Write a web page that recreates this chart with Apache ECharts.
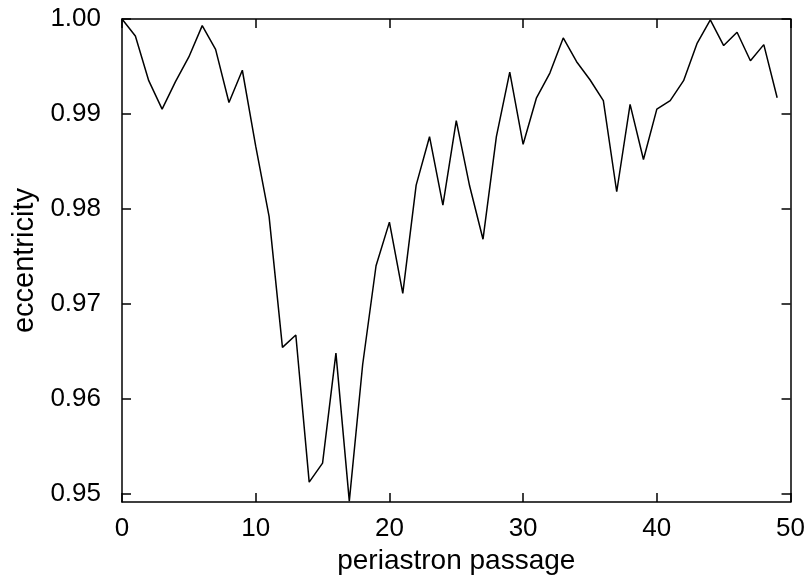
<!DOCTYPE html>
<html>
<head>
<meta charset="utf-8">
<script src="https://cdn.jsdelivr.net/npm/echarts@6/dist/echarts.min.js"></script>
<style>
html, body { margin: 0; padding: 0; background: #fff; }
#chart { width: 808px; height: 580px; }
</style>
</head>
<body>
<div id="chart"></div>
<script>
// periastron passage number
var passage = [0, 1, 2, 3, 4, 5, 6, 7, 8, 9,
	10, 11, 12, 13, 14, 15, 16, 17, 18, 19,
	20, 21, 22, 23, 24, 25, 26, 27, 28, 29,
	30, 31, 32, 33, 34, 35, 36, 37, 38, 39,
	40, 41, 42, 43, 44, 45, 46, 47, 48, 49];
// eccentricity
var eccentricity = [1.0000, 0.9982, 0.9935, 0.9905, 0.9934, 0.9960, 0.9993, 0.9968, 0.9912, 0.9946,
	0.9866, 0.9792, 0.9654, 0.9667, 0.9512, 0.9532, 0.9648, 0.9492, 0.9636, 0.9740,
	0.9786, 0.9711, 0.9825, 0.9876, 0.9804, 0.9893, 0.9824, 0.9768, 0.9876, 0.9944,
	0.9868, 0.9917, 0.9943, 0.9980, 0.9955, 0.9936, 0.9914, 0.9818, 0.9910, 0.9852,
	0.9905, 0.9914, 0.9935, 0.9974, 0.9999, 0.9972, 0.9986, 0.9956, 0.9973, 0.9917];
var yTicks = [0.95, 0.96, 0.97, 0.98, 0.99, 1.00];

var fontName = 'Liberation Sans';

function buildData() {
	var list = [];
	for (var i = 0; i < passage.length; i++) {
		list.push([passage[i], eccentricity[i]]);
	}
	return list;
}

function xAxisOpt(pos, showLabel) {
	return {
		type : 'value',
		position : pos,
		min : 0,
		max : 50,
		interval : 10,
		name : showLabel ? 'periastron passage' : '',
		nameLocation : 'middle',
		nameGap : 42,
		nameTextStyle : { fontFamily : fontName, fontSize : 28, color : '#000' },
		axisLine : { show : true, onZero : false, lineStyle : { color : '#000', width : 1.5 } },
		axisTick : { show : true, inside : true, length : 9, lineStyle : { color : '#000', width : 1.5 } },
		axisLabel : {
			show : showLabel,
			margin : 14,
			fontFamily : fontName,
			fontSize : 26,
			color : '#000'
		},
		splitLine : { show : false }
	};
}

function yAxisOpt(pos, showLabel) {
	return {
		type : 'value',
		position : pos,
		min : 0.9491,
		max : 1.0,
		name : showLabel ? 'eccentricity' : '',
		nameLocation : 'middle',
		nameGap : 82,
		nameTextStyle : { fontFamily : fontName, fontSize : 29, color : '#000' },
		axisLine : { show : true, onZero : false, lineStyle : { color : '#000', width : 1.5 } },
		axisTick : {
			show : true,
			inside : true,
			length : 9,
			customValues : yTicks,
			lineStyle : { color : '#000', width : 1.5 }
		},
		axisLabel : {
			show : showLabel,
			margin : 21,
			customValues : yTicks,
			fontFamily : fontName,
			fontSize : 26,
			color : '#000',
			formatter : function (v) { return v.toFixed(2); }
		},
		splitLine : { show : false }
	};
}

var myChart = echarts.init(document.getElementById('chart'));
var option = {
	animation : false,
	backgroundColor : '#fff',
	grid : { left : 122, right : 17, top : 19, bottom : 77 },
	xAxis : [ xAxisOpt('bottom', true), xAxisOpt('top', false) ],
	yAxis : [ yAxisOpt('left', true), yAxisOpt('right', false) ],
	series : [ {
		type : 'line',
		data : buildData(),
		symbol : 'none',
		lineStyle : { color : '#000', width : 1.5 }
	} ]
};
myChart.setOption(option, true);
</script>
</body>
</html>
